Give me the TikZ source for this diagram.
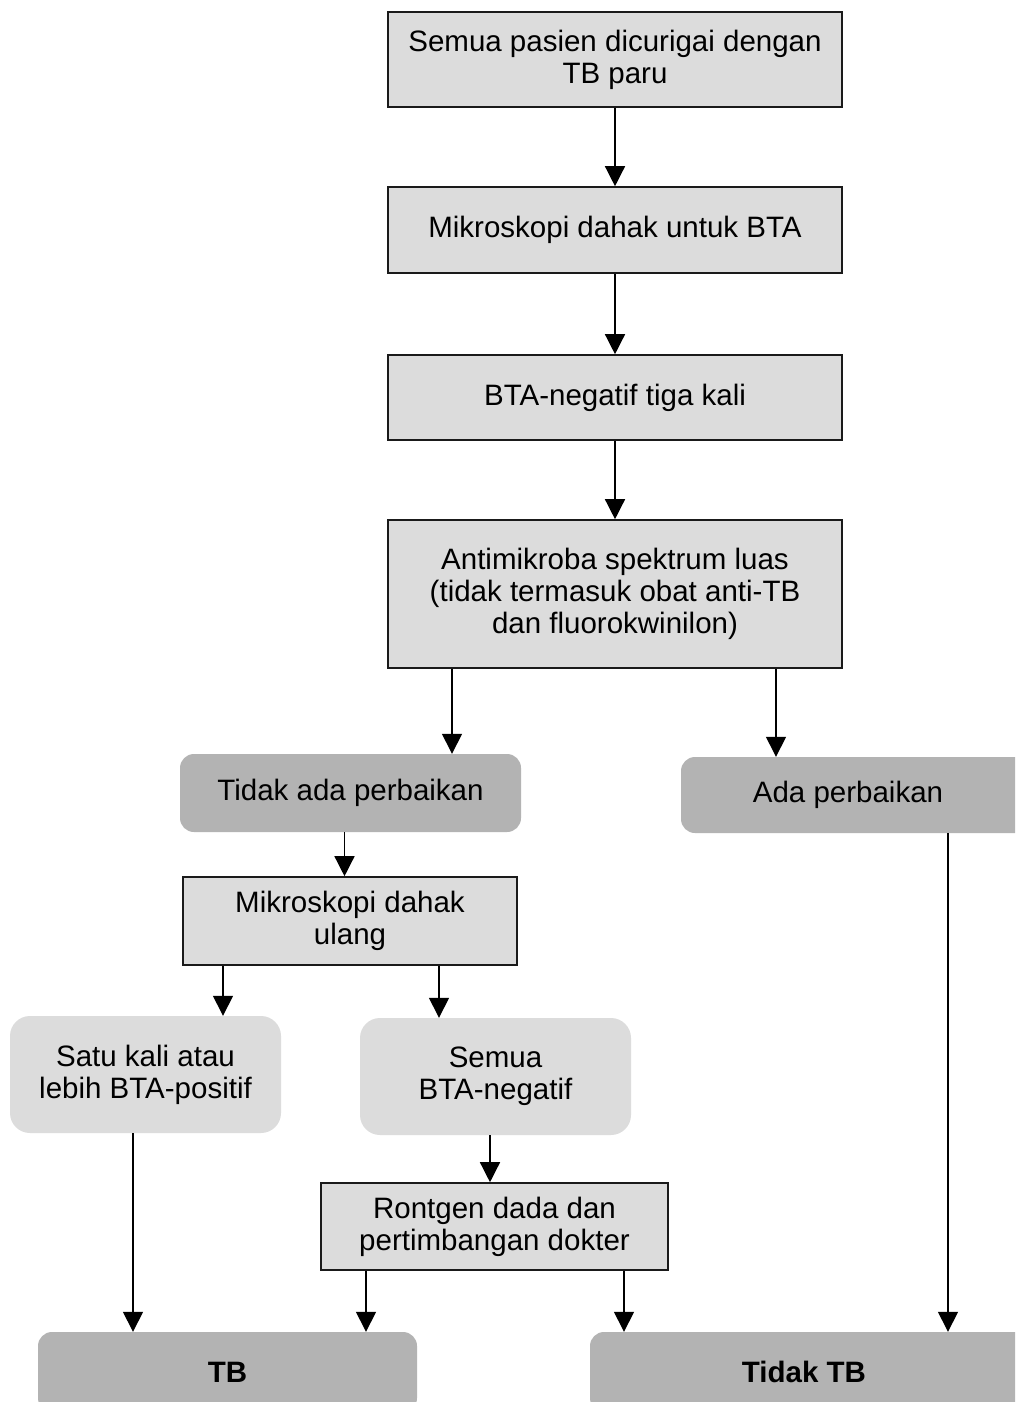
\documentclass[tikz,border=0pt]{standalone}
\usepackage{fontspec}
\setmainfont{Liberation Sans}
\usetikzlibrary{arrows.meta}
\definecolor{boxlight}{HTML}{DCDCDC}
\definecolor{boxdark}{HTML}{B3B3B3}
\definecolor{edgecol}{HTML}{1A1A1A}
\tikzset{
  every node/.style={font=\fontsize{29.5}{32}\selectfont, align=center, inner sep=0pt},
  sqbox/.style={draw=edgecol, line width=1.6pt, fill=boxlight},
  darkround/.style={fill=boxdark, rounded corners=14pt},
  lightround/.style={fill=boxlight, rounded corners=20pt},
  arr/.style={draw=black, line width=1.4pt, -{Triangle[width=20pt,length=20pt]}},
}
\begin{document}
\begin{tikzpicture}[x=1pt,y=-1pt]
\useasboundingbox (0,0) rectangle (1015,1402);
\clip (0,0) rectangle (1015,1402);
\fill[white] (0,0) rectangle (1015,1402);
% nodes
\node[sqbox, minimum width=454pt, minimum height=95pt] (b1) at (615,59.5) {Semua pasien dicurigai dengan\\TB paru};
\node[sqbox, minimum width=454pt, minimum height=86pt] (b2) at (615,230) {Mikroskopi dahak untuk BTA};
\node[sqbox, minimum width=454pt, minimum height=85pt] (b3) at (615,397.5) {BTA-negatif tiga kali};
\node[sqbox, minimum width=454pt, minimum height=148pt] (b4) at (615,594) {Antimikroba spektrum luas\\(tidak termasuk obat anti-TB\\dan fluorokwinilon)};
\node[darkround, minimum width=341pt, minimum height=78pt] (nta) at (350.5,793) {Tidak ada perbaikan};
\node[darkround, minimum width=380pt, minimum height=76pt] (ada) at (871,795) {\hbox to 374pt{\hfil Ada perbaikan\hskip 46pt\hfil}};
\node[sqbox, minimum width=334pt, minimum height=88pt] (mu) at (350,921) {Mikroskopi dahak\\ulang};
\node[lightround, minimum width=271pt, minimum height=117pt] (sk) at (145.5,1074.5) {Satu kali atau\\lebih BTA-positif};
\node[lightround, minimum width=271pt, minimum height=117pt] (sbn) at (495.5,1076.5) {Semua\\BTA-negatif};
\node[sqbox, minimum width=347pt, minimum height=87pt] (ro) at (494.5,1226.5) {Rontgen dada dan\\pertimbangan dokter};
\node[darkround, minimum width=379pt, minimum height=80pt, font=\fontsize{29.5}{32}\selectfont\bfseries] (tb) at (227.5,1372) {TB};
\node[darkround, minimum width=460pt, minimum height=80pt, font=\fontsize{29.5}{32}\selectfont\bfseries] (ntb) at (820,1372) {\hbox to 400pt{\hfil Tidak TB\hskip 32pt\hfil}};
% connectors
\draw[arr] (b1) -- (b2);
\draw[arr] (b2) -- (b3);
\draw[arr] (b3) -- (b4);
\coordinate (c1) at ([xshift=-163pt]b4.south);
\draw[arr] (c1) -- (c1 |- nta.north);
\coordinate (c2) at ([xshift=161pt]b4.south);
\draw[arr] (c2) -- (c2 |- ada.north);
\coordinate (c3) at ([xshift=-6pt]nta.south);
\draw[arr] (c3) -- (c3 |- mu.north);
\coordinate (c4) at ([xshift=-127pt]mu.south);
\draw[arr] (c4) -- (c4 |- sk.north);
\coordinate (c5) at ([xshift=89pt]mu.south);
\draw[arr] (c5) -- (c5 |- sbn.north);
\coordinate (c6) at ([xshift=-12.5pt]sk.south);
\draw[arr] (c6) -- (c6 |- tb.north);
\coordinate (c7) at ([xshift=-5.5pt]sbn.south);
\draw[arr] (c7) -- (c7 |- ro.north);
\coordinate (c8) at ([xshift=-128.5pt]ro.south);
\draw[arr] (c8) -- (c8 |- tb.north);
\coordinate (c9) at ([xshift=129.5pt]ro.south);
\draw[arr] (c9) -- (c9 |- ntb.north);
\coordinate (c10) at ([xshift=77pt]ada.south);
\draw[arr] (c10) -- (c10 |- ntb.north);
\end{tikzpicture}
\end{document}
